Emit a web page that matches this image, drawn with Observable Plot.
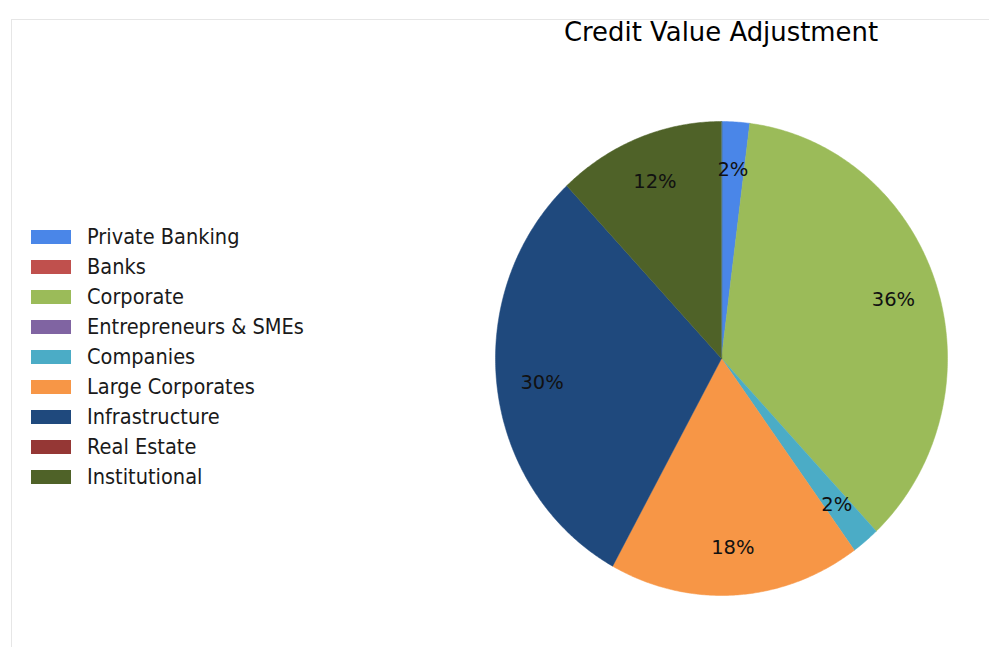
<!DOCTYPE html>
<html>
<head>
<meta charset="utf-8">
<script src="https://cdn.jsdelivr.net/npm/d3@7"></script>
<script src="https://cdn.jsdelivr.net/npm/@observablehq/plot@0.6"></script>
<style>
  html, body { margin: 0; padding: 0; background: #fff; }
  #wrap { position: relative; width: 989px; height: 647px; overflow: hidden; font-family: "DejaVu Sans", sans-serif; }
  #frame { position: absolute; left: 11px; top: 19px; width: 1200px; height: 900px; border-top: 1px solid #e6e6e6; border-left: 1px solid #e6e6e6; }
  #title { position: absolute; left: 521px; width: 400px; top: 17px; text-align: center; font-size: 25.9px; color: #000; white-space: nowrap; transform: scaleY(1.05); }
  #legend { position: absolute; left: 31px; top: 222px; }
  .row { height: 30px; display: flex; align-items: center; font-size: 19.4px; color: #1a1a1a; white-space: nowrap; }
  .row span { display: inline-block; transform: scaleY(1.06); }
  .sw { width: 40px; height: 14px; margin-right: 16px; flex: none; }
  #chart { position: absolute; left: 0; top: 0; }
</style>
</head>
<body>
<div id="wrap">
  <div id="frame"></div>
  <div id="chart"></div>
  <div id="title">Credit Value Adjustment</div>
  <div id="legend"></div>
</div>
<script>
const categories = ["Private Banking", "Banks", "Corporate", "Entrepreneurs & SMEs", "Companies", "Large Corporates", "Infrastructure", "Real Estate", "Institutional"];
const values = [2, 0, 36, 0, 2, 18, 30, 0, 12];
const colors = ["#4a86e8", "#c0504d", "#9bbb59", "#8064a2", "#4bacc6", "#f79646", "#1f497d", "#953735", "#4f6228"];

const data = categories.map((c, i) => ({cat: c, value: values[i], color: colors[i]}));
const total = d3.sum(values);
const arcs = d3.pie().sort(null).value(d => d.value).startAngle(0).endAngle(2 * Math.PI)(data);

const wedgePts = [];
for (const a of arcs) {
  if (a.data.value <= 0) continue;
  wedgePts.push({cat: a.data.cat, color: a.data.color, x: 0, y: 0});
  const n = Math.max(2, Math.ceil((a.endAngle - a.startAngle) / (Math.PI / 360)));
  for (let k = 0; k <= n; k++) {
    const t = a.startAngle + (a.endAngle - a.startAngle) * k / n;
    wedgePts.push({cat: a.data.cat, color: a.data.color, x: Math.sin(t), y: Math.cos(t)});
  }
}
const labels = arcs.filter(a => a.data.value > 0).map(a => {
  const m = (a.startAngle + a.endAngle) / 2;
  return {x: 0.8 * Math.sin(m), y: 0.8 * Math.cos(m), text: Math.round(a.data.value / total * 100) + "%"};
});

const chart = Plot.plot({
  width: 989,
  height: 647,
  margin: 0,
  style: {background: "transparent", fontFamily: "DejaVu Sans, sans-serif", overflow: "visible"},
  x: {domain: [-1, 1], range: [495, 947], axis: null},
  y: {domain: [-1, 1], range: [595, 121], axis: null},
  marks: [
    Plot.line(wedgePts, {x: "x", y: "y", z: "cat", fill: "color", stroke: "color", strokeWidth: 0.5, curve: "linear-closed"}),
    Plot.text(labels, {x: "x", y: "y", text: "text", fontSize: 19.5, fill: "#111"})
  ]
});
document.getElementById("chart").appendChild(chart);

const legend = document.getElementById("legend");
categories.forEach((c, i) => {
  const row = document.createElement("div");
  row.className = "row";
  const sw = document.createElement("div");
  sw.className = "sw";
  sw.style.background = colors[i];
  const tx = document.createElement("span");
  tx.textContent = c;
  row.appendChild(sw);
  row.appendChild(tx);
  legend.appendChild(row);
});
</script>
</body>
</html>
